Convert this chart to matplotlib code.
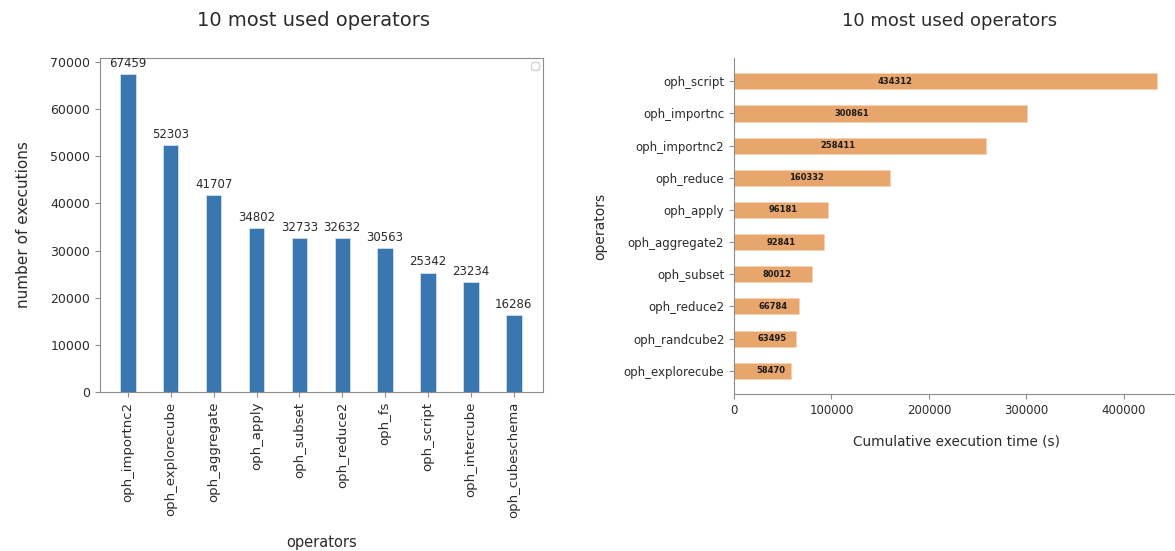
import matplotlib.pyplot as plt
import numpy as np

# left chart: number of executions
count_ops = ["oph_importnc2", "oph_explorecube", "oph_aggregate", "oph_apply",
             "oph_subset", "oph_reduce2", "oph_fs", "oph_script",
             "oph_intercube", "oph_cubeschema"]
count_vals = [67459, 52303, 41707, 34802, 32733, 32632, 30563, 25342, 23234, 16286]

# right chart: cumulative execution time
time_ops = ["oph_script", "oph_importnc", "oph_importnc2", "oph_reduce", "oph_apply",
            "oph_aggregate2", "oph_subset", "oph_reduce2", "oph_randcube2",
            "oph_explorecube"]
time_vals = [434312, 300861, 258411, 160332, 96181, 92841, 80012, 66784, 63495, 58470]

text_col = "#2b2b2b"
spine_col = "#8c8c8c"

fig = plt.figure(figsize=(11.75, 5.51), dpi=100)

# ---- left ----
ax1 = fig.add_axes([0.0851, 0.2886, 0.377, 0.606])
x = np.arange(len(count_ops))
bars = ax1.bar(x, count_vals, width=0.36, color="#3a76b0", edgecolor="#cfe0f0", linewidth=0.6)
for b, v in zip(bars, count_vals):
    ax1.annotate(str(v), (b.get_x() + b.get_width() / 2, v), xytext=(0, 3),
                 textcoords="offset points", ha="center", va="bottom",
                 fontsize=8.5, color=text_col)
ax1.set_xlim(-0.65, 9.68)
ax1.set_xticks(x)
ax1.set_xticklabels(count_ops, rotation=90, fontsize=9.5)
ax1.tick_params(axis="y", labelsize=9)
ax1.tick_params(color=spine_col, labelcolor=text_col, length=3.5)
for s in ax1.spines.values():
    s.set_color(spine_col)
ax1.set_ylabel("number of executions", fontsize=11, color=text_col, labelpad=14)
ax1.set_xlabel("operators", fontsize=10.5, color=text_col, labelpad=12)
# empty legend box, as in the original
leg = ax1.legend(handles=[], loc="upper right", frameon=True, fontsize=8,
                 borderpad=0.35, borderaxespad=0.35)
leg.get_frame().set_edgecolor("#c8c8c8")
fig.text(0.267, 0.962, "10 most used operators", ha="center", va="center",
         fontsize=14, color=text_col)

# ---- right ----
ax2 = fig.add_axes([0.6247, 0.2849, 0.378, 0.6098])
y = np.arange(len(time_ops))
ax2.barh(y, time_vals, height=0.5, color="#e8a66c", edgecolor="#f6d3b4", linewidth=0.6)
for yi, v in zip(y, time_vals):
    ax2.text(v / 3 + 3000, yi, str(v), ha="left", va="center",
             fontsize=6, fontweight="bold", color="#1a1a1a")
ax2.set_yticks(y)
ax2.set_yticklabels(time_ops, fontsize=8.5)
ax2.invert_yaxis()
ax2.tick_params(axis="x", labelsize=8.5)
ax2.tick_params(color=spine_col, labelcolor=text_col, length=3.5)
ax2.spines["top"].set_visible(False)
ax2.spines["right"].set_visible(False)
ax2.spines["left"].set_color(spine_col)
ax2.spines["bottom"].set_color(spine_col)
ax2.set_xlabel("Cumulative execution time (s)", fontsize=9.8, color=text_col, labelpad=13)
ax2.set_ylabel("operators", fontsize=10, color=text_col, labelpad=12)
fig.text(0.808, 0.962, "10 most used operators", ha="center", va="center",
         fontsize=13, color=text_col)

fig.savefig("out.png", dpi=100)
